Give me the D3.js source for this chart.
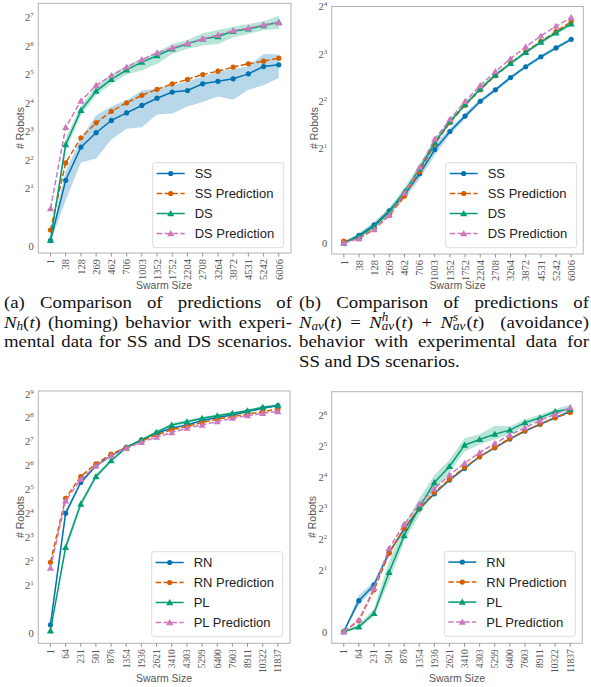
<!DOCTYPE html>
<html><head><meta charset="utf-8">
<script src="https://cdn.jsdelivr.net/npm/d3@7"></script>
<style>
body{margin:0;background:#fff;width:591px;height:687px;overflow:hidden;position:relative}
svg{position:absolute;left:0;top:0}
.cap{position:absolute;font-family:"Liberation Serif","Times New Roman",serif;font-size:17.6px;color:#111;transform:scaleX(1.068);transform-origin:0 0}
.cap div{height:19.7px;line-height:19.7px;text-align:justify;text-align-last:justify;white-space:normal}
.cap div.last{text-align:left;text-align-last:left}
.cap sub{font-size:0.7em;line-height:0;vertical-align:-0.18em}
.ss{display:inline-block;vertical-align:-0.22em;font-size:0.7em;line-height:0.78;text-align:left;text-align-last:left;margin-right:1px}
.ss i{display:block}
.op{margin:0 0.45em}
</style></head><body>
<svg id="chart" width="591" height="687"></svg>
<div class="cap" style="left:4px;top:293px;width:269.7px">
<div>(a) Comparison of predictions of</div>
<div><i>N<sub>h</sub></i>(<i>t</i>) (homing) behavior with experi-</div>
<div>mental data for SS and DS scenarios.</div>
</div>
<div class="cap" style="left:299px;top:293px;width:271.5px">
<div>(b) Comparison of predictions of</div>
<div><i>N<sub>av</sub></i>(<i>t</i>)<span class="op">=</span><i>N</i><span class="ss"><i>h</i><i>av</i></span>(<i>t</i>)<span class="op">+</span><i>N</i><span class="ss"><i>s</i><i>av</i></span>(<i>t</i>) (avoidance)</div>
<div>behavior with experimental data for</div>
<div class="last">SS and DS scenarios.</div>
</div>
<script>
// ---------- data ----------
const sizesTop = [1,38,128,269,462,706,1003,1352,1752,2204,2708,3264,3872,4531,5242,6006];
const sizesBottom = [1,64,231,501,876,1354,1936,2621,3410,4303,5299,6400,7603,8911,10322,11837];

const namesTop = ["SS","SS Prediction","DS","DS Prediction"];
const namesBottom = ["RN","RN Prediction","PL","PL Prediction"];

// panel (a) homing
const ssA     = [0.19,2.46,5.5,7.8,10.5,12.6,15.1,18.0,20.9,21.7,25.5,27.1,28.8,32.5,38.8,40.4];
const ssA_lo  = [0.12,1.6,3.78,4.17,6.6,8.6,8.9,12.1,12.4,14.7,16.4,18.8,17.3,22.1,24.6,29.3];
const ssA_hi  = [0.25,3.1,6.8,11.9,14.7,17.1,21.7,22.6,24.6,27.2,30.5,33.9,36.7,38.8,52.7,52.0];
const ssPredA = [0.56,3.75,6.9,9.9,13.1,16.1,19.3,22.3,25.5,28.4,32.0,34.7,38.3,41.4,44.2,47.5];
const dsA     = [0.21,5.85,13.4,21.4,28.4,35.8,43.1,50.6,59.7,67.2,75.8,80.3,91.3,96.6,104.7,113.8];
const dsA_lo  = [0.15,5.1,11.9,19.3,25.5,32,35.3,41.4,52.7,59.7,64.5,67.2,78.8,85.6,94.3,96.6];
const dsA_hi  = [0.3,6.8,15.1,23.9,32,39.7,46.8,55,67.2,74,86.8,94.3,101.8,109,116,133];
const dsPredA = [1.31,8.9,16.8,24.6,31.3,38.3,45.9,54.2,61.0,68.1,75.8,83.3,92.5,98.4,106.9,112.2];

// panel (b) avoidance
const ssB     = [0.01,0.17,0.39,0.69,1.02,1.47,1.98,2.57,3.22,4.0,4.73,5.66,6.63,7.67,8.73,9.9];
const ssB_lo  = [0,0.12,0.33,0.62,0.93,1.36,1.86,2.45,3.1,3.87,4.6,5.5,6.45,7.45,8.5,9.65];
const ssB_hi  = [0.03,0.22,0.45,0.76,1.11,1.58,2.12,2.7,3.35,4.13,4.87,5.82,6.8,7.9,8.97,10.15];
const ssPredB = [0.05,0.10,0.31,0.59,1.0,1.52,2.14,2.93,3.78,4.73,5.82,6.96,8.23,9.6,11.1,12.8];
const dsB     = [0.01,0.15,0.36,0.67,1.09,1.58,2.19,2.97,3.81,4.79,5.89,6.96,8.17,9.5,10.9,12.4];
const dsB_lo  = [0,0.11,0.31,0.61,1.0,1.5,2.1,2.87,3.7,4.66,5.73,6.78,7.95,9.25,10.6,12.0];
const dsB_hi  = [0.03,0.19,0.41,0.73,1.18,1.67,2.28,3.07,3.92,4.92,6.05,7.14,8.4,9.75,11.2,12.8];
const dsPredB = [0.01,0.10,0.29,0.60,1.06,1.61,2.3,3.07,4.0,5.03,6.19,7.46,8.88,10.4,12.0,13.6];

// panel (c)
const rnC     = [0.35,16.1,39.4,63.6,85.6,109,135,164,190,208,237,258,278,307,338,365];
const rnC_lo  = [0.28,14.8,37.5,61.5,83.5,106,132,160,185,203,231,252,272,300,330,356];
const rnC_hi  = [0.42,17.5,41.3,65.8,87.8,112,138,168,195,213,243,264,284,314,346,374];
const rnPredC = [3.9,24.9,46.8,67.5,89.3,109,131,156,181,199,223,246,265,284,307,329];
const plC     = [0.1,6.0,21.1,46.8,74,108,135,169,208,229,253,272,292,315,347,365];
const plC_lo  = [0.05,5.3,19.2,43.5,70,105,131,164,198,219,243,262,282,305,336,352];
const plC_hi  = [0.15,6.8,23.2,50.2,78,111,139,175,220,240,264,283,303,326,359,380];
const plPredC = [3.29,23.1,43.1,63.6,85,106,126,146,167,190,208,229,253,272,292,307];

// panel (d)
const rnD     = [0.02,1.02,1.53,2.97,5.05,7.9,11.1,15.1,19.6,25.5,31.1,37.8,45.3,52.7,61.0,70.0];
const rnD_lo  = [0,0.88,1.42,2.85,4.9,7.7,10.8,14.7,19.1,24.9,30.4,37,44.3,51.6,59.7,68.5];
const rnD_hi  = [0.04,1.2,1.64,3.1,5.2,8.1,11.4,15.5,20.1,26.1,31.8,38.6,46.3,53.8,62.3,71.5];
const rnPredD = [0.02,0.37,1.37,2.93,5.13,8.0,11.4,15.4,20.0,25.5,31.4,38.3,45.3,52.7,61.0,68.6];
const plD     = [0.02,0.18,0.61,1.94,4.35,8.2,14.3,20.5,33.1,37.5,42.2,46.2,54.6,61.0,70.0,74.0];
const plD_lo  = [0,0.13,0.51,1.64,3.81,6.9,12.1,18.0,28.5,33.6,37.5,42,51,58,66,70];
const plD_hi  = [0.04,0.26,0.75,2.43,5.53,10.0,16.9,23.7,38.4,42,51,50,59,65,73.5,82];
const plPredD = [0.02,0.40,1.42,3.27,5.62,8.8,12.4,16.9,22.0,27.9,34.3,41.4,48.8,57.3,65.8,76.6];

const yTicksA = [0,2,4,8,16,32,64,128];
const yTicksB = [0,2,4,8,16];
const yTicksC = [0,2,4,8,16,32,64,128,256,512];
const yTicksD = [0,2,4,8,16,32,64];

const colors = ["#0173b2","#d55e00","#029e73","#cc78bc"];

// symlog base 2, linthresh 2 (units: decades)
const symT = v => v <= 2 ? v : 1 + Math.log2(v);

const panels = [
  {box:[38.3,291,3.3,253], yDom:[-0.245,8.49], cats:sizesTop, ticks:yTicksA, tf:10.5,
   names:namesTop, series:[ssA,ssPredA,dsA,dsPredA], bands:[[ssA_lo,ssA_hi],null,[dsA_lo,dsA_hi],null],
   leg:[152.7,162.7], xl:[164,289], yl:[20,128]},
  {box:[331.7,583.3,6.5,254], yDom:[-0.223,5.0], cats:sizesTop, ticks:yTicksB, tf:10.5,
   names:namesTop, series:[ssB,ssPredB,dsB,dsPredB], bands:[[ssB_lo,ssB_hi],null,[dsB_lo,dsB_hi],null],
   leg:[445.7,162.7], xl:[457.5,289], yl:[314,128]},
  {box:[38.3,290,391,643.3], yDom:[-0.42,10.12], cats:sizesBottom, ticks:yTicksC, tf:9.5,
   names:namesBottom, series:[rnC,rnPredC,plC,plPredC], bands:[[rnC_lo,rnC_hi],null,[plC_lo,plC_hi],null],
   leg:[151.7,551.7], xl:[164,682], yl:[20,517]},
  {box:[331.7,582.3,391.7,643.3], yDom:[-0.355,7.77], cats:sizesBottom, ticks:yTicksD, tf:9.5,
   names:namesBottom, series:[rnD,rnPredD,plD,plPredD], bands:[[rnD_lo,rnD_hi],null,[plD_lo,plD_hi],null],
   leg:[444.3,551.3], xl:[457,682], yl:[312.5,517]}
];

const svg = d3.select("#chart");
const serif = '"Liberation Serif","Times New Roman",serif';
const sans = '"Liberation Sans",Arial,sans-serif';
const triangle = d3.symbol().type(d3.symbolTriangle).size(22);

function drawMarker(g, k, cx, cy){
  if (k < 2) g.append("circle").attr("cx",cx).attr("cy",cy).attr("r",2.6).attr("fill",colors[k]);
  else g.append("path").attr("d",triangle()).attr("transform",`translate(${cx},${cy+0.6})`).attr("fill",colors[k]);
}

panels.forEach(p => {
  const [x0,x1,y0,y1] = p.box;
  const n = p.cats.length;
  const x = d3.scaleLinear().domain([-0.8, n-1+0.8]).range([x0,x1]);
  const yS = d3.scaleLinear().domain(p.yDom).range([y1,y0]);
  const y = v => yS(symT(v));
  const g = svg.append("g");

  p.series.forEach((s,k) => {
    const b = p.bands[k];
    if (b) {
      const area = d3.area().x((d,i)=>x(i)).y0((d,i)=>y(b[0][i])).y1((d,i)=>y(b[1][i]));
      g.append("path").datum(p.cats).attr("d",area).attr("fill",colors[k]).attr("fill-opacity",0.28);
    }
  });
  p.series.forEach((s,k) => {
    const line = d3.line().x((d,i)=>x(i)).y(d=>y(d));
    g.append("path").datum(s).attr("d",line).attr("fill","none").attr("stroke",colors[k])
      .attr("stroke-width",1.5).attr("stroke-dasharray", k%2 ? "5.5,2.4" : null);
    const mg = g.append("g");
    s.forEach((v,i) => drawMarker(mg,k,x(i),y(v)));
  });

  g.append("rect").attr("x",x0).attr("y",y0).attr("width",x1-x0).attr("height",y1-y0)
    .attr("fill","none").attr("stroke","#b3b3b3").attr("stroke-width",1);

  const xa = g.append("g");
  p.cats.forEach((c,i) => {
    xa.append("line").attr("x1",x(i)).attr("x2",x(i)).attr("y1",y1).attr("y2",y1+3.5)
      .attr("stroke","#777").attr("stroke-width",0.8);
    xa.append("text").attr("transform",`translate(${x(i)},${y1+6}) rotate(-90)`)
      .attr("dy","0.35em").attr("text-anchor","end").attr("font-family",serif)
      .attr("font-size",p.tf).attr("fill","#555").text(c);
  });
  p.ticks.forEach(t => {
    const tx = g.append("text").attr("x",x0-4.5).attr("y",y(t)).attr("dy","0.35em")
      .attr("text-anchor","end").attr("font-family",serif).attr("font-size",10.5).attr("fill","#555");
    if (t === 0) tx.text("0");
    else { tx.append("tspan").text("2"); tx.append("tspan").attr("dy",-4).attr("font-size",7).text(Math.log2(t)); }
  });

  g.append("text").attr("x",p.xl[0]).attr("y",p.xl[1]).attr("text-anchor","middle")
    .attr("font-family",sans).attr("font-size",10.5).attr("fill","#555").text("Swarm Size");
  g.append("text").attr("transform",`translate(${p.yl[0]},${p.yl[1]}) rotate(-90)`).attr("dy","0.35em")
    .attr("text-anchor","middle").attr("font-family",sans).attr("font-size",10.5).attr("fill","#555").text("# Robots");

  const [lx,ly] = p.leg;
  const lg = g.append("g");
  lg.append("rect").attr("x",lx).attr("y",ly).attr("width",131).attr("height",85).attr("rx",2.5)
    .attr("fill","#fff").attr("fill-opacity",0.85).attr("stroke","#dcdcdc").attr("stroke-width",1);
  p.names.forEach((nm,k) => {
    const yy = ly + 10.8 + k*20;
    lg.append("line").attr("x1",lx+4).attr("x2",lx+32).attr("y1",yy).attr("y2",yy)
      .attr("stroke",colors[k]).attr("stroke-width",1.5).attr("stroke-dasharray", k%2 ? "5.5,2.4" : null);
    drawMarker(lg,k,lx+18,yy);
    lg.append("text").attr("x",lx+42).attr("y",yy).attr("dy","0.36em").attr("font-family",sans)
      .attr("font-size",13).attr("fill","#222").text(nm);
  });
});
</script>
</body></html>
